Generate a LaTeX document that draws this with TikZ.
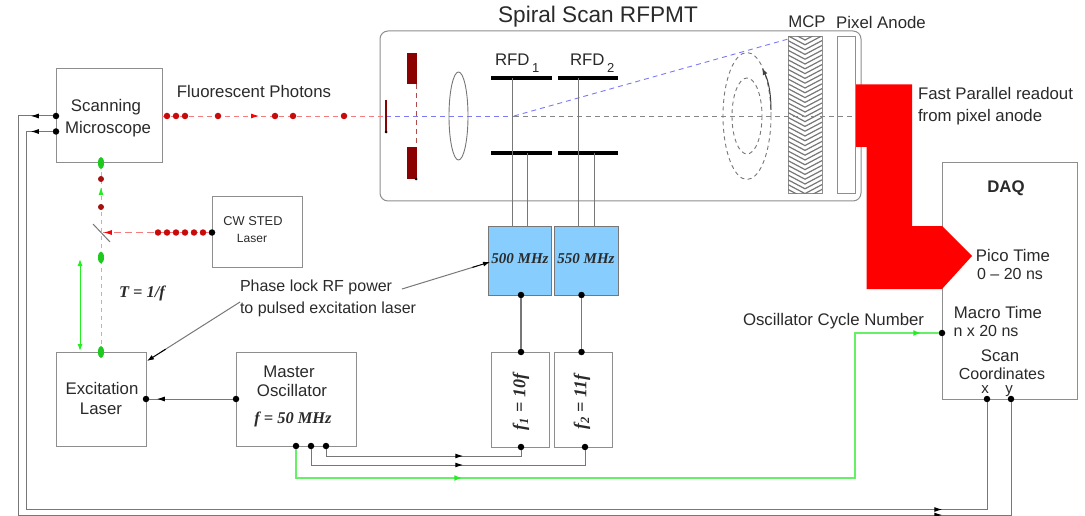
\documentclass[tikz,border=0pt]{standalone}
\usepackage{fontspec}
\setmainfont{Liberation Sans}
\newfontfamily\serifbi[BoldItalicFont={Liberation Serif Bold Italic}]{Liberation Serif}
\usetikzlibrary{arrows.meta,decorations.markings,calc,shapes.geometric}
\definecolor{edgegray}{HTML}{8E8E8E}
\definecolor{wiregray}{HTML}{777777}
\definecolor{txt}{HTML}{2A2A2A}
\definecolor{beamred}{HTML}{F47C7C}
\definecolor{dotred}{HTML}{C80A0A}
\definecolor{darkdot}{HTML}{A51010}
\definecolor{deepred}{HTML}{8B0000}
\definecolor{rfblue}{HTML}{87CEFF}
\definecolor{lime}{HTML}{22EE22}
\definecolor{softgreen}{HTML}{66F066}
\definecolor{beamblue}{HTML}{7A7AF8}
\tikzset{
  box/.style={draw=edgegray,line width=1pt,inner sep=0pt,outer sep=0pt,fill=white},
  rfbox/.style={box,fill=rfblue,draw=wiregray},
  lbl/.style={inner sep=0pt,outer sep=0pt,text=txt,font=\fontsize{16.8}{16.8}\selectfont},
  lbls/.style={lbl,font=\fontsize{16}{16}\selectfont},
  lbll/.style={lbl,anchor=west},
  ser/.style={inner sep=0pt,outer sep=0pt,text=txt,font=\fontsize{16.4}{16.4}\selectfont\serifbi\bfseries\itshape},
  serb/.style={ser,font=\fontsize{15}{15}\selectfont\serifbi\bfseries\itshape},
  serr/.style={ser,rotate=90,font=\fontsize{18}{18}\selectfont\serifbi\bfseries\itshape},
  pin/.style={circle,fill=black,inner sep=0pt,minimum size=6.5pt,outer sep=0pt},
  rdot/.style={circle,fill=dotred,inner sep=0pt,minimum size=6.5pt,outer sep=0pt},
  ddot/.style={circle,fill=darkdot,inner sep=0pt,minimum size=6pt,outer sep=0pt},
  pulse/.style={ellipse,fill=lime!85!black,inner sep=0pt,outer sep=0pt,minimum width=6pt,minimum height=12pt},
  wire/.style={draw=wiregray,line width=1pt},
  sig/.style={draw=wiregray,line width=1pt,postaction={decorate}},
  greenline/.style={draw=softgreen,line width=1.6pt,postaction={decorate}},
  plate/.style={draw=black,line width=4pt},
  beam/.style={line width=.9pt,dash pattern=on 5pt off 4pt},
  tip/.style={-{Latex[length=7pt,width=5pt]}},
  blacktip/.style={decoration={markings,mark=at position #1 with {\arrow[black]{Latex[length=8pt,width=5pt]}}}},
  twoblack/.style 2 args={decoration={markings,
     mark=at position #1 with {\arrow[black]{Latex[length=8pt,width=5pt]}},
     mark=at position #2 with {\arrow[black]{Latex[length=8pt,width=5pt]}}}},
  twogreen/.style 2 args={decoration={markings,
     mark=at position #1 with {\arrow[lime]{Latex[length=8pt,width=6pt]}},
     mark=at position #2 with {\arrow[lime]{Latex[length=8pt,width=6pt]}}}},
  redtip/.style={decoration={markings,mark=at position #1 with {\arrow[red]{Latex[length=8pt,width=5pt]}}}},
  greentip/.style={decoration={markings,mark=at position #1 with {\arrow[lime]{Latex[length=8pt,width=5pt]}}}}
}
\begin{document}
\begin{tikzpicture}[x=1pt,y=-1pt]
\useasboundingbox (0,0) rectangle (1085,516);
% tube
\node[box,rounded corners=8pt,minimum width=481pt,minimum height=170pt] (tube) at (620.5,116) {};
\node[lbl,font=\fontsize{22.6}{22.6}\selectfont] (title) at (598,17) {Spiral Scan RFPMT};
% boxes
\node[box,minimum width=106pt,minimum height=94pt] (scope) at (109,116) {};
\node[box,minimum width=90pt,minimum height=70pt] (sted) at (257,232) {};
\node[box,minimum width=90pt,minimum height=94pt] (exc) at (101,399) {};
\node[box,minimum width=120pt,minimum height=94pt] (osc) at (296,399) {};
\node[rfbox,minimum width=63pt,minimum height=69pt] (rfa) at (520,260.5) {};
\node[rfbox,minimum width=64pt,minimum height=69pt] (rfb) at (586,260.5) {};
\node[box,minimum width=58pt,minimum height=95pt] (fa) at (520,399.5) {};
\node[box,minimum width=58pt,minimum height=95pt] (fb) at (583,399.5) {};
\node[box,minimum width=135pt,minimum height=236pt] (daq) at (1009.5,281) {};
% box labels
\node[lbl] (l1) at (106,107) {Scanning};
\node[lbl] (l2) at (108,129) {Microscope};
\node[lbl] (l3) at (254,91) {Fluorescent Photons};
\node[lbl,font=\fontsize{12.8}{12.8}\selectfont] (l4) at (253,221) {CW STED};
\node[lbl,font=\fontsize{12}{12}\selectfont] (l5) at (252,238) {Laser};
\node[lbl] (l6) at (102,388) {Excitation};
\node[lbl] (l7) at (101,409) {Laser};
\node[lbl] (l8) at (289,372) {Master};
\node[lbl] (l9) at (292,390) {Oscillator};
\node[ser] (l10) at (293,419) {f = 50 MHz};
\node[ser] (l11) at (142,293) {T = 1/f};
\node[serb] (l12) at (520,259) {500 MHz};
\node[serb] (l13) at (586,259) {550 MHz};
\node[serr] (l14) at (521,402) {f\textsubscript{1} = 10f};
\node[serr] (l15) at (582,402) {f\textsubscript{2} = 11f};
\node[lbls,anchor=west] (l16) at (240,287) {Phase lock RF power};
\node[lbls,anchor=west] (l17) at (240,309) {to pulsed excitation laser};
\node[lbll] (l18) at (743,321) {Oscillator Cycle Number};
\node[lbll] (l19) at (918,93) {Fast Parallel readout};
\node[lbll] (l20) at (918,117) {from pixel anode};
\node[lbl] (l21) at (807,22) {MCP};
\node[lbl] (l22) at (881,22) {Pixel Anode};
\node[lbl,anchor=west] (l23) at (495,60) {RFD};
\node[lbl,anchor=west,font=\fontsize{13}{13}\selectfont] (l24) at (532,68) {1};
\node[lbl,anchor=west] (l25) at (570,60) {RFD};
\node[lbl,anchor=west,font=\fontsize{13}{13}\selectfont] (l26) at (607,68) {2};
\node[lbl,font=\fontsize{16.8}{16.8}\selectfont\bfseries] (l27) at (1006,188) {DAQ};
\node[lbl] (l28) at (1013,255) {Pico Time};
\node[lbls] (l29) at (1010,274) {0 -- 20 ns};
\node[lbl] (l30) at (998,312) {Macro Time};
\node[lbls] (l31) at (986,331) {n x 20 ns};
\node[lbl] (l32) at (1000,356) {Scan};
\node[lbls] (l33) at (1002,374) {Coordinates};
\node[lbl,anchor=base,font=\fontsize{15}{15}\selectfont] (l34) at (985,393.5) {x};
\node[lbl,anchor=base,font=\fontsize{15}{15}\selectfont] (l35) at (1009,393.5) {y};
% readout
\fill[red] (855,84.5) -- (912,84.5) -- (912,226) -- (942,226) -- (972,256) -- (942,289) -- (866.5,289) -- (866.5,147) -- (855,147) -- cycle;
% mcp + anode
\node[box,draw=edgegray,minimum width=34pt,minimum height=157pt] (mcp) at (805,115.5) {};
\node[box,minimum width=18pt,minimum height=157pt] (anode) at (846,115.5) {};
\begin{scope}
\clip (788,37) rectangle (822,194);
\foreach \yy in {31,35.8,...,196}{
  \draw[draw=wiregray,line width=1.2pt] (788,\yy) -- (805,\yy+9) -- (822,\yy);
}
\end{scope}
% beams
\coordinate (exit) at (162,116);
\coordinate (cathode) at (386,116);
\coordinate (defl) at (514,116);
\coordinate (hit) at (790,38.5);
\coordinate (anodeaxis) at (855,116);
\draw[beam,draw=beamred,redtip=97pt,postaction={decorate}] (exit) -- (cathode);
\draw[beam,draw=wiregray!90] (defl) -- (anodeaxis);
\draw[beam,draw=beamblue] (cathode) -- (defl);
\draw[beam,draw=beamblue] (defl) -- (hit);
% tube inside
\fill[deepred] (407,53) rectangle (417,84);
\fill[deepred] (407,147) rectangle (417,179);
\draw[deepred,line width=1.5pt] (386,100) -- (386,132);
\node[pin,minimum size=3pt] (c1) at (386,132) {};
\node[pin,minimum size=3pt] (c2) at (416,179) {};
\draw[beam,draw=deepred!70!white] (416,84) -- (416,147);
\draw[draw=wiregray,line width=.9pt] (458.5,116) ellipse (9.5 and 44);
\draw[plate] (491,78) -- (552,78);
\draw[plate] (558,78) -- (618,78);
\draw[plate] (491,153.5) -- (552,153.5);
\draw[plate] (558,153.5) -- (618,153.5);
\draw[wire] (512,78) -- (512,226);
\draw[wire] (527,153.5) -- (527,226);
\draw[wire] (578,78) -- (578,226);
\draw[wire] (594,153.5) -- (594,226);
% spiral
\draw[wiregray,line width=.9pt,dash pattern=on 4pt off 3.5pt] (747,116) ellipse (24 and 63.5);
\draw[wiregray,line width=.9pt,dash pattern=on 4pt off 3.5pt] (747,116) ellipse (15 and 38);
\draw[black!75,line width=1pt,tip] (771,110) .. controls (771,95) and (769,82) .. (762,68);
% fluorescence dots
\foreach \xx [count=\i] in {167,176,185,218,275,293,344}{ \node[rdot] (fp\i) at (\xx,116) {}; }
% sted beam
\node[pin] (stedout) at (212,232.5) {};
\coordinate (mirror) at (102,232.5);
\draw[beam,draw=beamred,dash pattern=on 7pt off 4pt,redtip=105pt,postaction={decorate}] (stedout) -- (mirror);
\foreach \xx [count=\i] in {158,167,176,185,194,203}{ \node[rdot] (sd\i) at (\xx,232.5) {}; }
\draw[wiregray,line width=1pt] (93,224) -- (110,242);
% excitation beam
\coordinate (excout) at (101,352);
\coordinate (scin) at (101,163);
\draw[draw=softgreen,line width=1pt,dash pattern=on 4pt off 4pt,greentip=165pt,postaction={decorate}] (excout) -- (scin);
\node[ddot] (dd1) at (101,179) {};
\node[ddot] (dd2) at (101,207) {};
\node[pulse] (g1) at (101,163) {};
\node[pulse] (g2) at (101,257.5) {};
\node[pulse] (g3) at (101,352) {};
\coordinate (ta) at (80,259);
\coordinate (tb) at (80,351);
\draw[draw=lime,line width=1pt,{Latex[length=7pt,width=5pt]}-{Latex[length=7pt,width=5pt]}] (ta) -- (tb);
% annotation arrows
\coordinate (anA) at (240,302);
\coordinate (anAe) at (147,361);
\coordinate (anB) at (402,289);
\coordinate (anBe) at (490,262);
\draw[wiregray,line width=1pt] (anA) -- ($(anA)!.85!(anAe)$);
\draw[black,line width=1pt,tip] ($(anA)!.8!(anAe)$) -- (anAe);
\draw[wiregray,line width=1pt] (anB) -- ($(anB)!.85!(anBe)$);
\draw[black,line width=1pt,tip] ($(anB)!.8!(anBe)$) -- (anBe);
% pins
\node[pin] (sm1) at (56,116) {};
\node[pin] (sm2) at (56,131.5) {};
\node[pin] (ex1) at (146,399) {};
\node[pin] (mo0) at (236,399) {};
\node[pin] (mo1) at (296,446) {};
\node[pin] (mo2) at (311,446) {};
\node[pin] (mo3) at (326,446) {};
\node[pin] (fa1) at (521,352) {};
\node[pin] (fb1) at (581.5,352) {};
\node[pin] (fa2) at (521,447) {};
\node[pin] (fb2) at (585,447) {};
\node[pin] (ra) at (521,295) {};
\node[pin] (rb) at (581.5,295) {};
\node[pin] (dq0) at (942,333) {};
\node[pin] (dqx) at (987,399) {};
\node[pin] (dqy) at (1011,399) {};
% connectors
\draw[wire,line width=1.3pt] (ra) -- (fa1);
\draw[wire,line width=1.3pt] (rb) -- (fb1);
\draw[sig,blacktip=76pt] (mo0) -- (ex1);
\draw[sig,blacktip=144pt] (mo3) |- (521,456) -- (fa2);
\draw[sig,blacktip=168pt] (mo2) |- (585,465) -- (fb2);
\draw[greenline,twogreen={195pt}{799pt}] (mo1) |- (855,478) |- (dq0);
\draw[sig,twoblack={22pt}{1321pt}] (sm2) -| (26,509.5) -| (dqx);
\draw[sig,twoblack={22pt}{1358pt}] (sm1) -| (18,515) -| (dqy);
\end{tikzpicture}
\end{document}
